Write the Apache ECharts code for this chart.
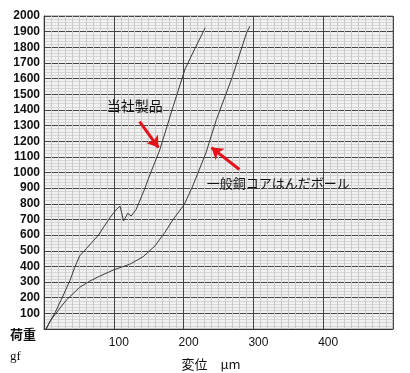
<!DOCTYPE html>
<html><head><meta charset="utf-8">
<script src="https://cdn.jsdelivr.net/npm/echarts@6/dist/echarts.min.js"></script>
<style>html,body{margin:0;padding:0;background:#fff}#c{width:410px;height:373px}</style>
</head><body><div id="c"></div>
<script>
// displacement (µm), load (gf)
const ourProduct = [[3,0],[9,50],[16,106],[25,190],[37,308],[44,393],[51,467],[61,515],[78,600],[95,715],[104,765],[109,785],[114,690],[120,739],[125,722],[132,764],[144,892],[149,955],[166,1146],[185,1422],[202,1660],[216,1790],[231,1925]];
const generalBall = [[3,0],[9,53],[20,117],[32,185],[51,266],[65,305],[80,338],[101,380],[123,414],[142,462],[159,531],[173,616],[185,700],[201,796],[213,913],[232,1125],[247,1338],[270,1613],[290,1890],[295,1935]];
const seriesNames = ['当社製品','一般銅コアはんだボール'];
const yTicks = {min:0, max:2000, step:100};
const xTicks = {min:0, max:500, step:100};
const arrowOur = [[137,1325],[164,1159]];
const arrowGen = [[280,1019],[240,1159]];
const labelOur = [130,1427];
const labelGen = [233,930];

const chart = echarts.init(document.getElementById('c'), null, {renderer:'canvas'});
const red = '#e3121b';
chart.setOption({
  animation:false,
  backgroundColor:'#ffffff',
  grid:{left:44,right:17,top:16,bottom:44,show:true,backgroundColor:'#f1f1f1',borderColor:'#888',borderWidth:1},
  xAxis:{type:'value',min:xTicks.min,max:xTicks.max,interval:xTicks.step,
    axisLine:{show:true,lineStyle:{color:'#333'}},axisTick:{show:false},
    axisLabel:{margin:8,color:'#111',fontSize:12,fontFamily:'Liberation Sans',
      formatter:v=>(v===xTicks.min||v===xTicks.max)?'':('   '+v)},
    splitLine:{show:true,lineStyle:{color:'#444',width:1}},
    minorTick:{show:false,splitNumber:10},
    minorSplitLine:{show:true,lineStyle:{color:'#cacaca',width:1}}},
  yAxis:{type:'value',min:yTicks.min,max:yTicks.max,interval:yTicks.step,
    axisLine:{show:true,lineStyle:{color:'#333'}},axisTick:{show:false},
    axisLabel:{margin:4,color:'#111',fontSize:12,fontWeight:'bold',fontFamily:'Liberation Sans',
      formatter:v=>v===0?'':String(v)},
    splitLine:{show:true,lineStyle:{color:'#444',width:1}},
    minorTick:{show:false,splitNumber:5},
    minorSplitLine:{show:true,lineStyle:{color:'#d6d6d6',width:1}}},
  series:[
    {name:seriesNames[0],type:'line',data:ourProduct,symbol:'none',lineStyle:{color:'#3a3a3a',width:1},
      markLine:{silent:true,symbol:['none','arrow'],symbolSize:[11,11],label:{show:false},
        lineStyle:{color:red,width:3,type:'solid'},
        data:[[{coord:arrowOur[0]},{coord:arrowOur[1]}]]}},
    {name:seriesNames[1],type:'line',data:generalBall,symbol:'none',lineStyle:{color:'#3a3a3a',width:1},
      markLine:{silent:true,symbol:['none','arrow'],symbolSize:[11,11],label:{show:false},
        lineStyle:{color:red,width:3,type:'solid'},
        data:[[{coord:arrowGen[0]},{coord:arrowGen[1]}]]}}
  ]
});
const p1 = chart.convertToPixel({gridIndex:0}, labelOur);
const p2 = chart.convertToPixel({gridIndex:0}, labelGen);
chart.setOption({graphic:[
  {type:'text',x:p1[0],y:p1[1],style:{text:seriesNames[0],fill:'#111',font:'14px "Noto Sans CJK JP"',align:'center',verticalAlign:'middle'}},
  {type:'text',x:p2[0],y:p2[1],style:{text:seriesNames[1],fill:'#111',font:'13px "Noto Sans CJK JP"',align:'left',verticalAlign:'middle'}},
  {type:'text',x:23,y:334,style:{text:'荷重',fill:'#111',font:'bold 13px "Noto Sans CJK JP"',align:'center',verticalAlign:'middle'}},
  {type:'text',x:10,y:357,style:{text:'gf',fill:'#111',font:'13px "Liberation Serif"',align:'left',verticalAlign:'middle'}},
  {type:'text',x:211,y:364,style:{text:'変位　μm',fill:'#111',font:'13px "Noto Sans CJK JP"',align:'center',verticalAlign:'middle'}}
]});
</script></body></html>
